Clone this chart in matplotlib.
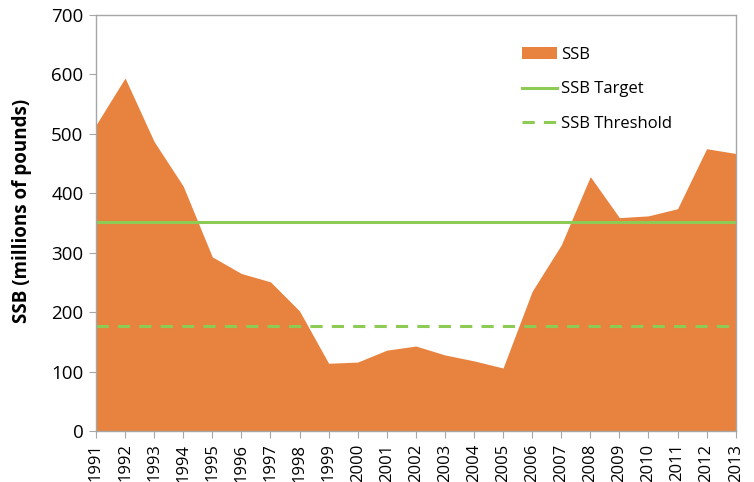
import matplotlib
import matplotlib.pyplot as plt
from matplotlib.patches import Patch
from matplotlib.lines import Line2D

matplotlib.use("Agg")

years = list(range(1991, 2014))
ssb = [515, 594, 487, 412, 293, 265, 251, 202, 114, 116, 136, 143,
       128, 118, 106, 235, 313, 428, 359, 362, 374, 475, 467]
ssb_target = 352
ssb_threshold = 176

ORANGE = "#E8823F"
GREEN = "#8DCB55"
GRID = "#A6A6A6"

plt.rcParams["font.family"] = ["Open Sans", "DejaVu Sans"]

fig = plt.figure(figsize=(7.54, 4.82), dpi=100)
ax = fig.add_axes([0.1273, 0.1058, 0.8484, 0.8631])

ax.fill_between(years, ssb, 0, color=ORANGE, linewidth=0)
ax.axhline(ssb_target, color=GREEN, linewidth=2.2)
ax.axhline(ssb_threshold, color=GREEN, linewidth=2.2, linestyle=(0, (4, 3)))

ax.set_xlim(years[0], years[-1])
ax.set_ylim(0, 700)
ax.set_xticks(years)
ax.set_xticklabels([str(y) for y in years], rotation=90, fontsize=12)
ax.set_yticks(range(0, 701, 100))
ax.tick_params(axis="y", labelsize=13.5, length=5, color=GRID, pad=4)
ax.tick_params(axis="x", length=5, color=GRID, pad=4)
for sp in ax.spines.values():
    sp.set_color(GRID)
    sp.set_linewidth(1)

ax.set_ylabel("SSB (millions of pounds)", fontsize=13.5, fontweight="bold")
ax.yaxis.set_label_coords(-0.1, 0.53)

handles = [
    Patch(facecolor=ORANGE, edgecolor="none"),
    Line2D([], [], color=GREEN, linewidth=2.2),
    Line2D([], [], color=GREEN, linewidth=2.2, linestyle=(0, (4, 3))),
]
ax.legend(handles, ["SSB", "SSB Target", "SSB Threshold"], loc="upper left",
          bbox_to_anchor=(0.642, 0.959), frameon=False, fontsize=12,
          handlelength=2.1, handletextpad=0.25, labelspacing=1.1)

fig.savefig("out.png", dpi=100)
plt.close(fig)
